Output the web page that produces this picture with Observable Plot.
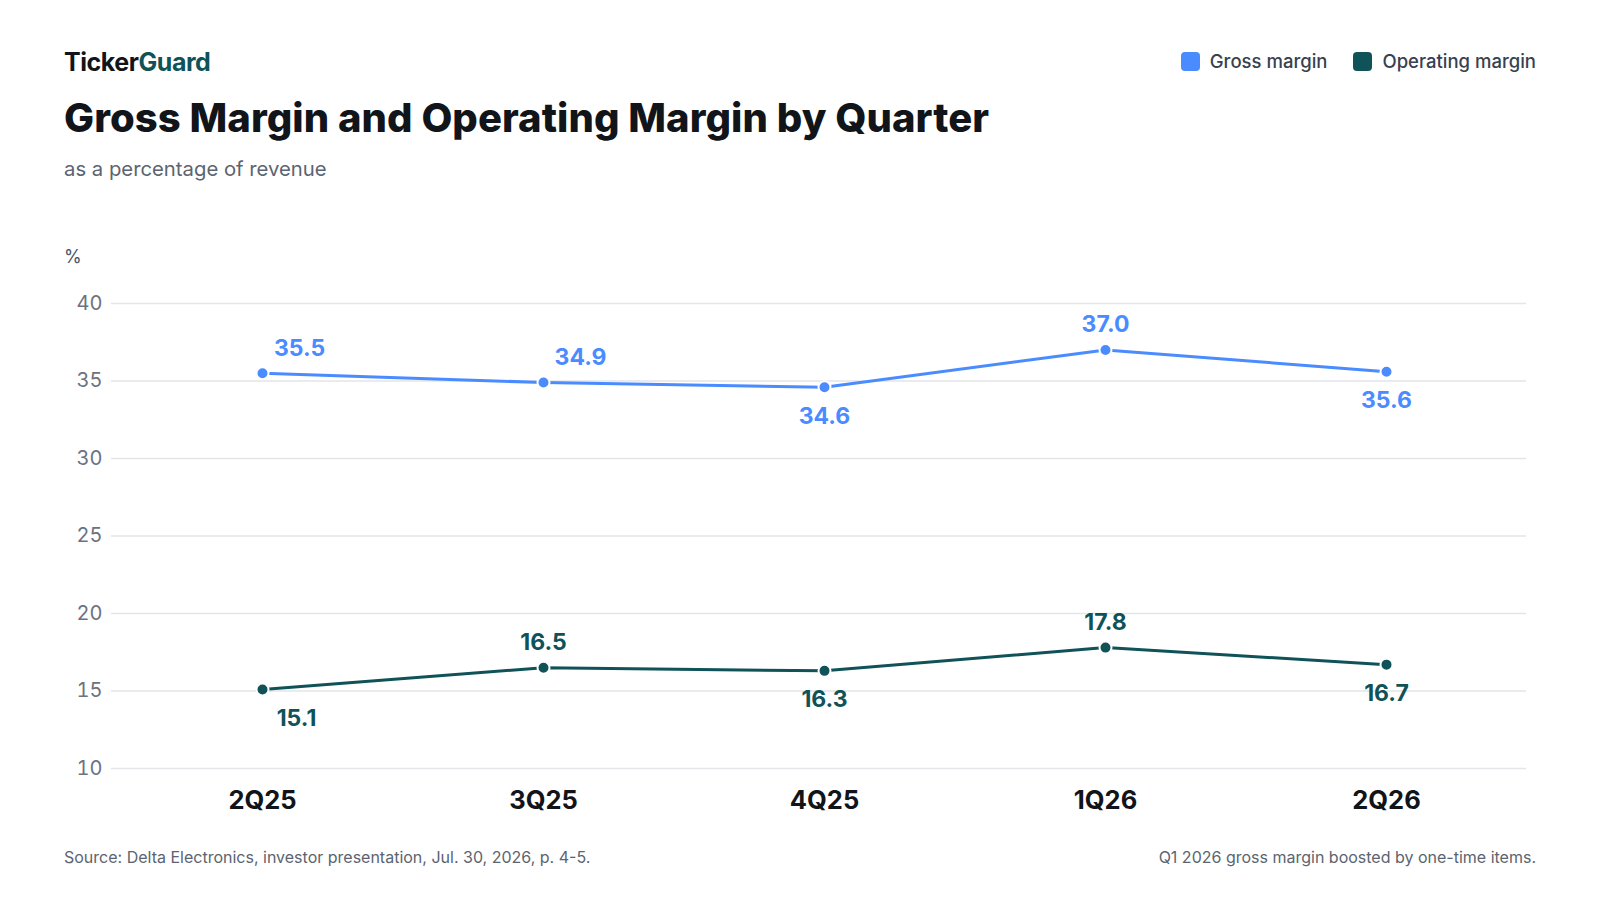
<!DOCTYPE html>
<html>
<head>
<meta charset="utf-8">
<script src="https://cdn.jsdelivr.net/npm/d3@7"></script>
<script src="https://cdn.jsdelivr.net/npm/@observablehq/plot@0.6"></script>
<style>
  body { margin: 0; background: #fff; font-family: Inter, "Noto Sans", sans-serif; }
  #page { position: relative; width: 1600px; height: 900px; overflow: hidden; }
  .brand { position: absolute; left: 64px; top: 47px; font-size: 25px; font-weight: 700; letter-spacing: -0.45px; color: #111418; }
  .brand span { color: #0f5257; }
  .title { position: absolute; left: 64px; top: 93px; font-size: 40px; font-weight: 800; letter-spacing: 0.06px; color: #111418; }
  .subtitle { position: absolute; left: 64px; top: 156px; font-size: 20.3px; color: #5b6470; }
  .legend { position: absolute; right: 64px; top: 50px; display: flex; gap: 26px; font-size: 18.5px; font-weight: 500; color: #374151; }
  .legend .item { display: flex; align-items: center; gap: 10px; }
  .legend .sw { width: 19px; height: 19px; border-radius: 4px; display: inline-block; }
  .unit { position: absolute; left: 64px; top: 246px; font-size: 18px; color: #4b5563; z-index: 2; }
  #chart { position: absolute; left: 0; top: 230px; z-index: 1; }
  .foot { position: absolute; top: 847px; font-size: 16px; color: #5b6470; }
</style>
</head>
<body>
<div id="page">
  <div class="brand">Ticker<span>Guard</span></div>
  <div class="title">Gross Margin and Operating Margin by Quarter</div>
  <div class="subtitle">as a percentage of revenue</div>
  <div class="legend" id="legend"></div>
  <div id="chart"></div>
  <div class="unit">%</div>
  <div class="foot" style="left:64px">Source: Delta Electronics, investor presentation, Jul. 30, 2026, p. 4-5.</div>
  <div class="foot" style="right:64px">Q1 2026 gross margin boosted by one-time items.</div>
</div>
<script>
const quarters = ["2Q25", "3Q25", "4Q25", "1Q26", "2Q26"]
const grossMargin = [35.5, 34.9, 34.6, 37.0, 35.6]
const operatingMargin = [15.1, 16.5, 16.3, 17.8, 16.7]
// where each value label sits relative to its dot
const grossPlace = ["above-right", "above-right", "below", "above", "below"]
const operatingPlace = ["below-right", "above", "below", "above", "below"]
const seriesNames = ["Gross margin", "Operating margin"]
const seriesColors = ["#4a8cff", "#0f5257"]
const yTicks = [10, 15, 20, 25, 30, 35, 40]

const rows = []
quarters.forEach((q, i) => {
  rows.push({ quarter: q, value: grossMargin[i], series: seriesNames[0], place: grossPlace[i] })
  rows.push({ quarter: q, value: operatingMargin[i], series: seriesNames[1], place: operatingPlace[i] })
})

const colorOf = s => seriesColors[seriesNames.indexOf(s)]

d3.select("#legend").selectAll("div")
  .data(seriesNames)
  .join("div").attr("class", "item")
  .html((d, i) => `<span class="sw" style="background:${seriesColors[i]}"></span>${d}`)

const labelOffsets = {
  "above": { dx: 0, dy: -25 },
  "above-right": { dx: 37, dy: -25 },
  "below": { dx: 0, dy: 29 },
  "below-right": { dx: 34, dy: 29 }
}

const labelMarks = Object.entries(labelOffsets).map(([place, off]) =>
  Plot.text(rows.filter(d => d.place === place), {
    x: "quarter", y: "value",
    text: d => d.value.toFixed(1),
    fill: d => colorOf(d.series),
    dx: off.dx, dy: off.dy,
    fontSize: 23, fontWeight: 700
  })
)

const chart = Plot.plot({
  width: 1600,
  height: 600,
  marginLeft: 111,
  marginRight: 74,
  marginTop: 73,
  marginBottom: 62,
  x: { type: "point", domain: quarters, padding: 0.5, insetLeft: 10 },
  y: { domain: [10, 40] },
  style: { fontFamily: "Inter, 'Noto Sans', sans-serif", background: "transparent" },
  marks: [
    Plot.gridY(yTicks, { stroke: "#e3e5e8", strokeOpacity: 1, strokeWidth: 1.5 }),
    Plot.axisY(yTicks, { tickSize: 0, tickPadding: 9, fontSize: 20, color: "#6b7280", label: null }),
    Plot.axisX({ tickSize: 0, tickPadding: 22, fontSize: 25.5, fontWeight: 700, color: "#111418", label: null }),
    Plot.line(rows, { x: "quarter", y: "value", z: "series", stroke: d => colorOf(d.series), strokeWidth: 3 }),
    Plot.dot(rows, { x: "quarter", y: "value", r: 6, fill: d => colorOf(d.series), stroke: "white", strokeWidth: 2 }),
    ...labelMarks
  ]
})

document.getElementById("chart").append(chart)
</script>
</body>
</html>
